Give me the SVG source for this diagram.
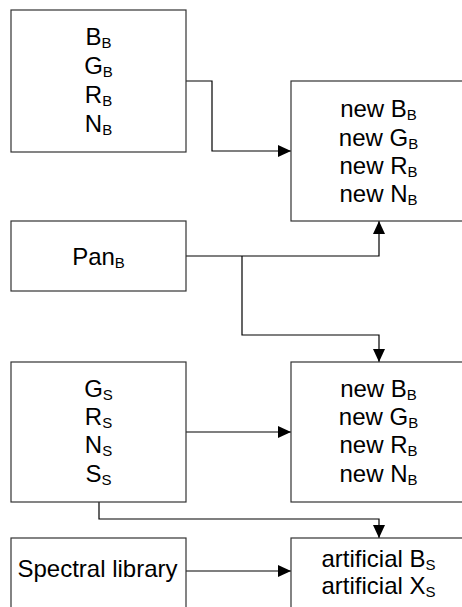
<svg xmlns="http://www.w3.org/2000/svg" width="462" height="607" viewBox="0 0 462 607">
<style>
.box{fill:#fff;stroke:#333;stroke-width:1.2}
.t{font-family:"Liberation Sans",Arial,sans-serif;font-size:24px;fill:#000;text-anchor:middle}
.s{font-size:15px}
.c{fill:none;stroke:#000;stroke-width:1.2}
</style>
<defs>
<marker id="ah" markerWidth="13" markerHeight="12" refX="13" refY="6" orient="auto" markerUnits="userSpaceOnUse">
<path d="M0,0 L13,6 L0,12 z" fill="#000"/>
</marker>
</defs>
<rect width="462" height="607" fill="#fff"/>
<g id="connectors">
<path class="c" d="M186,81 H212 V151 H291" marker-end="url(#ah)"/>
<path class="c" d="M186,256 H379 V221" marker-end="url(#ah)"/>
<path class="c" d="M242,256 V335 H379 V362" marker-end="url(#ah)"/>
<path class="c" d="M186,432 H291" marker-end="url(#ah)"/>
<path class="c" d="M99,502 V519 H379 V538" marker-end="url(#ah)"/>
<path class="c" d="M186,571 H291" marker-end="url(#ah)"/>
</g>
<g id="bands_B">
<rect class="box" x="11" y="10" width="175" height="142"/>
<text class="t" x="98.5" y="45">B<tspan class="s" dy="3">B</tspan></text>
<text class="t" x="98.5" y="74">G<tspan class="s" dy="3">B</tspan></text>
<text class="t" x="98.5" y="103">R<tspan class="s" dy="3">B</tspan></text>
<text class="t" x="98.5" y="132">N<tspan class="s" dy="3">B</tspan></text>
</g>
<g id="new_B_1">
<rect class="box" x="291" y="81" width="175" height="140"/>
<text class="t" x="378.5" y="117">new B<tspan class="s" dy="3">B</tspan></text>
<text class="t" x="378.5" y="146">new G<tspan class="s" dy="3">B</tspan></text>
<text class="t" x="378.5" y="174">new R<tspan class="s" dy="3">B</tspan></text>
<text class="t" x="378.5" y="202">new N<tspan class="s" dy="3">B</tspan></text>
</g>
<g id="pan_B">
<rect class="box" x="11" y="221" width="175" height="70"/>
<text class="t" x="98.5" y="265">Pan<tspan class="s" dy="3">B</tspan></text>
</g>
<g id="bands_S">
<rect class="box" x="11" y="362" width="175" height="140"/>
<text class="t" x="98.5" y="397">G<tspan class="s" dy="3">S</tspan></text>
<text class="t" x="98.5" y="425">R<tspan class="s" dy="3">S</tspan></text>
<text class="t" x="98.5" y="453">N<tspan class="s" dy="3">S</tspan></text>
<text class="t" x="98.5" y="482">S<tspan class="s" dy="3">S</tspan></text>
</g>
<g id="new_B_2">
<rect class="box" x="291" y="362" width="175" height="140"/>
<text class="t" x="378.5" y="397">new B<tspan class="s" dy="3">B</tspan></text>
<text class="t" x="378.5" y="425">new G<tspan class="s" dy="3">B</tspan></text>
<text class="t" x="378.5" y="453">new R<tspan class="s" dy="3">B</tspan></text>
<text class="t" x="378.5" y="482">new N<tspan class="s" dy="3">B</tspan></text>
</g>
<g id="spectral_library">
<rect class="box" x="11" y="538" width="175" height="80"/>
<text class="t" x="97.5" y="577">Spectral library</text>
</g>
<g id="artificial_S">
<rect class="box" x="291" y="538" width="175" height="80"/>
<text class="t" x="378.5" y="567">artificial B<tspan class="s" dy="3">S</tspan></text>
<text class="t" x="378.5" y="594">artificial X<tspan class="s" dy="3">S</tspan></text>
</g>
</svg>
